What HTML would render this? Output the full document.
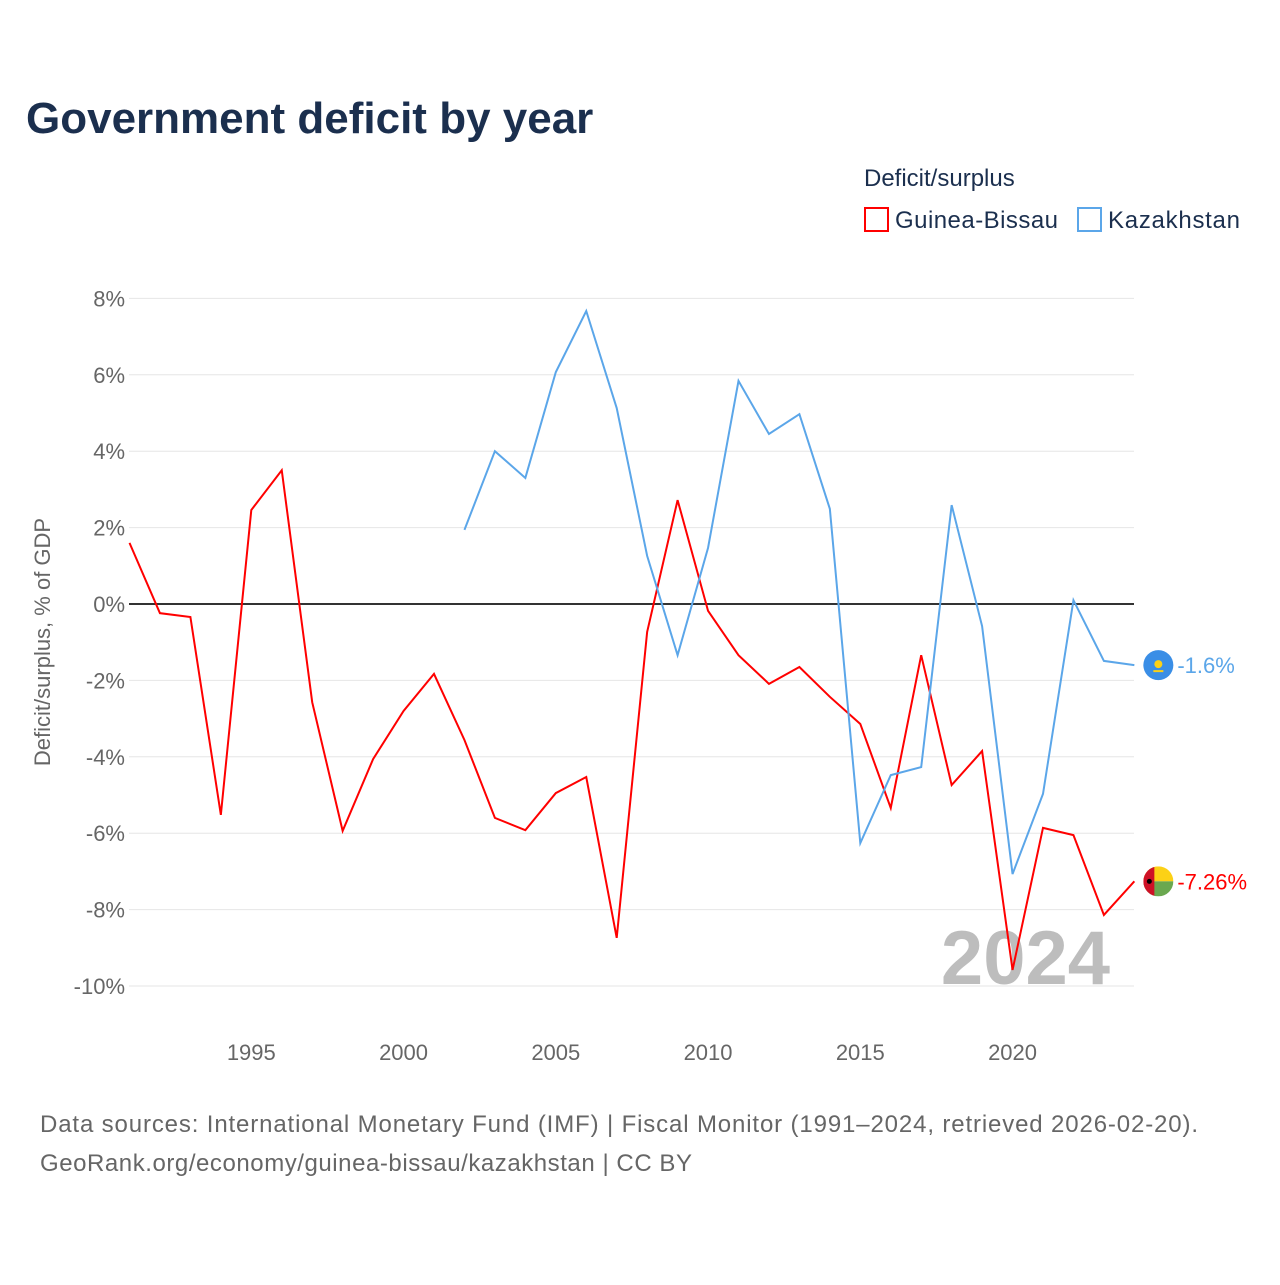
<!DOCTYPE html>
<html><head><meta charset="utf-8"><style>
body{margin:0;background:#fff;font-family:"Liberation Sans",sans-serif}
#c{position:relative;width:1280px;height:1280px}
</style></head><body>
<div id="c">
<svg id="s" width="1280" height="1280" xmlns="http://www.w3.org/2000/svg">
<text x="26" y="133" font-size="44" font-weight="bold" fill="#1b2f4e">Government deficit by year</text>
<text x="864" y="186" font-size="24" fill="#1b2f4e">Deficit/surplus</text>
<g><rect x="865" y="208" width="23" height="23" fill="none" stroke="#ff0000" stroke-width="2"/><text x="895" y="228" font-size="24" fill="#1b2f4e" textLength="163">Guinea-Bissau</text></g>
<g><rect x="1078" y="208" width="23" height="23" fill="none" stroke="#5ba6e9" stroke-width="2"/><text x="1108" y="228" font-size="24" fill="#1b2f4e" textLength="132">Kazakhstan</text></g>
<text transform="translate(50,642) rotate(-90)" text-anchor="middle" font-size="22" fill="#666">Deficit/surplus, % of GDP</text>
<text x="1110" y="984" text-anchor="end" font-size="76" font-weight="bold" fill="#bdbdbd">2024</text>
<g id="grid"></g><g id="series"></g>
<text x="40" y="1132" font-size="24" fill="#666" textLength="1158">Data sources: International Monetary Fund (IMF) | Fiscal Monitor (1991–2024, retrieved 2026-02-20).</text>
<text x="40" y="1171" font-size="24" fill="#666" textLength="652">GeoRank.org/economy/guinea-bissau/kazakhstan | CC BY</text>
</svg></div>
<script>
const yTicks=[8,6,4,2,0,-2,-4,-6,-8,-10];
const xTicks=[1995,2000,2005,2010,2015,2020];
const gbYears=[1991,1992,1993,1994,1995,1996,1997,1998,1999,2000,2001,2002,2003,2004,2005,2006,2007,2008,2009,2010,2011,2012,2013,2014,2015,2016,2017,2018,2019,2020,2021,2022,2023,2024];
const gbValues=[1.6,-0.24,-0.34,-5.52,2.46,3.5,-2.57,-5.94,-4.06,-2.8,-1.83,-3.56,-5.6,-5.92,-4.95,-4.53,-8.74,-0.73,2.72,-0.18,-1.34,-2.09,-1.65,-2.43,-3.14,-5.34,-1.34,-4.74,-3.85,-9.58,-5.86,-6.05,-8.14,-7.26];
const kzYears=[2002,2003,2004,2005,2006,2007,2008,2009,2010,2011,2012,2013,2014,2015,2016,2017,2018,2019,2020,2021,2022,2023,2024];
const kzValues=[1.94,4.0,3.3,6.07,7.67,5.13,1.26,-1.34,1.47,5.84,4.45,4.97,2.49,-6.26,-4.48,-4.27,2.59,-0.58,-7.07,-4.97,0.1,-1.49,-1.6];
const NS="http://www.w3.org/2000/svg";
const X=y=>129.5+(y-1991)*30.45, Y=v=>604-v*38.2;
function mk(t,a,p){const e=document.createElementNS(NS,t);for(const k in a)e.setAttribute(k,a[k]);p.appendChild(e);return e;}
const g=document.getElementById('grid'),sg=document.getElementById('series');
yTicks.forEach(v=>{
 const l=mk('line',{x1:129,x2:1134,y1:Y(v),y2:Y(v),stroke:v===0?'#333':'#e6e6e6','stroke-width':v===0?2:1},g);
 
 
 const t=mk('text',{x:125,y:Y(v)+8,'text-anchor':'end','font-size':22,fill:'#666'},g);t.textContent=v+'%';
 
 
});
xTicks.forEach(v=>{
 const t=mk('text',{x:X(v),y:1060,'text-anchor':'middle','font-size':22,fill:'#666'},g);t.textContent=v;
 
 
});
function line(years,vals,color,name,label,gb){
 const p=mk('polyline',{points:years.map((y,i)=>X(y)+','+Y(vals[i])).join(' '),fill:'none',stroke:color,'stroke-width':2},sg);
 
 
 const lx=X(years[years.length-1])+24, ly=Y(vals[vals.length-1]);
 const fg=mk('g',{},sg);
 
 
 if(gb){
  mk('clipPath',{id:'gbclip'},fg);
  mk('circle',{cx:lx,cy:ly,r:15},fg.lastChild);
  const cg=mk('g',{'clip-path':'url(#gbclip)'},fg);
  mk('rect',{x:lx-15,y:ly-15,width:30,height:15,fill:'#fcd116'},cg);
  mk('rect',{x:lx-15,y:ly,width:30,height:15,fill:'#6aa84f'},cg);
  mk('rect',{x:lx-15,y:ly-15,width:11,height:30,fill:'#ce1126'},cg);
  mk('circle',{cx:lx-9,cy:ly,r:2.5,fill:'#000'},cg);
 } else {
  mk('circle',{cx:lx,cy:ly,r:15,fill:'#3a8ee6'},fg);
  mk('circle',{cx:lx,cy:ly-1,r:4,fill:'#fcd116'},fg);
  mk('rect',{x:lx-5,y:ly+5,width:10,height:2,fill:'#fcd116'},fg);
 }
 const t=mk('text',{x:lx+19,y:ly+8,'font-size':22,fill:color},sg);t.textContent=label;
 
 
}
line(gbYears,gbValues,'#ff0000','guinea-bissau-line',gbValues[gbValues.length-1]+'%',true);
line(kzYears,kzValues,'#5ba6e9','kazakhstan-line',kzValues[kzValues.length-1]+'%',false);
</script>
</body></html>
